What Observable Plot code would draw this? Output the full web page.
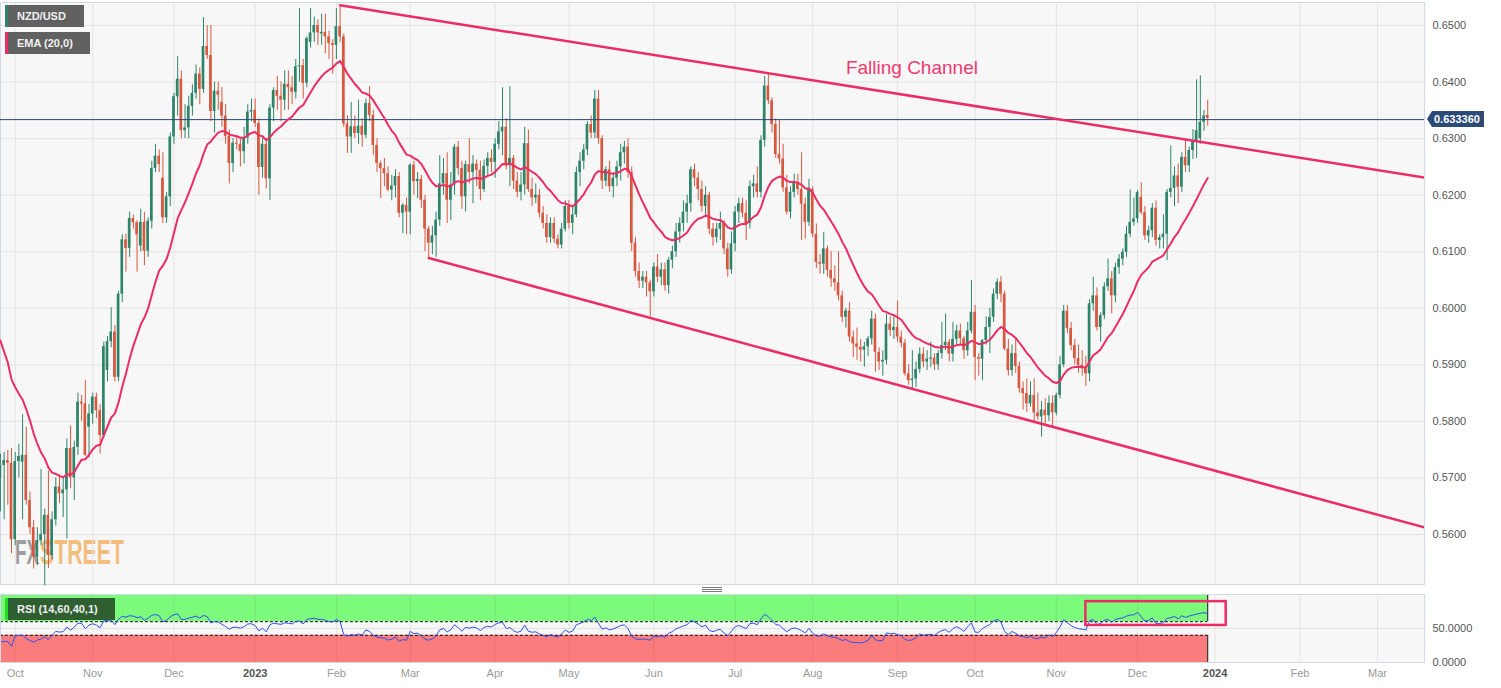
<!DOCTYPE html>
<html><head><meta charset="utf-8">
<script src="https://cdn.jsdelivr.net/npm/d3@7"></script>
<script src="https://cdn.jsdelivr.net/npm/@observablehq/plot@0.6"></script>
<style>
html,body{margin:0;padding:0;background:#fff;}
#wrap{position:relative;width:1501px;height:688px;overflow:hidden;font-family:"Liberation Sans",Arial,sans-serif;}
#main,#rsi{position:absolute;left:0;}
#main{top:0;}
#rsi{top:590px;}
.leg{position:absolute;left:5px;height:22px;line-height:22px;color:#f0f0f0;font-size:11px;font-weight:bold;padding-left:12px;box-sizing:border-box;white-space:nowrap;}
.leg i{position:absolute;left:0;top:0;width:2.5px;height:100%;}
#tag{position:absolute;left:1432px;height:16px;line-height:16px;background:#2b4a78;color:#fff;font-size:11px;font-weight:bold;padding:0 4px 0 2px;white-space:nowrap;}
#tag:before{content:"";position:absolute;left:-5px;top:0;border-top:8px solid transparent;border-bottom:8px solid transparent;border-right:5px solid #2b4a78;}
.hd{position:absolute;left:702px;width:20px;height:1px;background:#7a7a7a;}
</style></head>
<body><div id="wrap"></div>
<script>
// ---------------- DATA ----------------
// daily candles [open, high, low, close], one row per weekday
const sep22 = [
[.5700,.5742,.5640,.5722],[.5722,.5745,.5626,.5731],[.5731,.5749,.5652,.5726],[.5726,.5752,.5566,.5591]];
const oct22 = [
[.5591,.5745,.5580,.5729],[.5729,.5760,.5700,.5738],[.5728,.5812,.5626,.5740],[.5740,.5790,.5652,.5660],
[.5660,.5675,.5600,.5612],[.5612,.5625,.5539,.5560],[.5560,.5612,.5545,.5589],[.5589,.5715,.5580,.5600],
[.5600,.5645,.5509,.5634],[.5634,.5712,.5540,.5563],[.5563,.5640,.5555,.5626],[.5626,.5700,.5615,.5684],
[.5684,.5705,.5655,.5672],[.5672,.5700,.5630,.5679],[.5679,.5769,.5592,.5752],[.5752,.5792,.5681,.5700],
[.5700,.5765,.5660,.5754],[.5754,.5850,.5740,.5834],[.5834,.5846,.5800,.5831],[.5831,.5872,.5738,.5740],
[.5790,.5830,.5735,.5813]];
const nov22 = [
[.5813,.5850,.5795,.5843],[.5843,.5850,.5805,.5819],[.5819,.5830,.5742,.5775],[.5775,.5940,.5770,.5932],
[.5890,.5950,.5870,.5941],[.5941,.6001,.5930,.5958],[.5958,.5970,.5870,.5878],[.5878,.6030,.5870,.6025],
[.6025,.6130,.6010,.6121],[.6121,.6131,.6064,.6106],[.6106,.6170,.6090,.6159],[.6159,.6165,.6140,.6151],
[.6151,.6155,.6064,.6130],[.6110,.6175,.6100,.6152],[.6152,.6170,.6075,.6101],[.6101,.6160,.6090,.6154],
[.6154,.6260,.6140,.6247],[.6247,.6290,.6240,.6269],[.6269,.6280,.6240,.6254],[.6230,.6275,.6150,.6160],
[.6160,.6205,.6150,.6197],[.6197,.6310,.6180,.6303]];
const dec22 = [
[.6303,.6380,.6290,.6374],[.6374,.6445,.6340,.6405],[.6405,.6420,.6300,.6314],[.6314,.6360,.6300,.6319],
[.6319,.6375,.6300,.6357],[.6357,.6395,.6340,.6380],[.6380,.6430,.6370,.6414],[.6414,.6425,.6360,.6387],
[.6387,.6514,.6380,.6463],[.6463,.6500,.6440,.6447],[.6447,.6500,.6330,.6348],[.6348,.6400,.6310,.6384],
[.6384,.6400,.6350,.6377],[.6364,.6390,.6320,.6340],[.6340,.6360,.6290,.6304],[.6304,.6315,.6220,.6256],
[.6256,.6300,.6240,.6292],[.6292,.6305,.6280,.6290],[.6290,.6300,.6250,.6277],[.6277,.6320,.6255,.6301],
[.6301,.6360,.6290,.6347],[.6347,.6370,.6330,.6350]];
const jan23 = [
[.6350,.6370,.6320,.6327],[.6327,.6335,.6200,.6249],[.6249,.6300,.6230,.6290],[.6290,.6300,.6211,.6229],
[.6229,.6360,.6191,.6354],[.6354,.6390,.6330,.6385],[.6385,.6410,.6350,.6375],[.6375,.6400,.6330,.6368],
[.6368,.6420,.6350,.6396],[.6396,.6420,.6350,.6390],[.6390,.6410,.6360,.6382],[.6382,.6440,.6370,.6427],
[.6427,.6530,.6400,.6429],[.6429,.6440,.6370,.6398],[.6398,.6480,.6390,.6477],[.6470,.6530,.6460,.6487],
[.6487,.6515,.6470,.6500],[.6500,.6510,.6465,.6487],[.6485,.6520,.6465,.6488],[.6488,.6520,.6450,.6480],
[.6480,.6490,.6440,.6468],[.6468,.6475,.6414,.6465]];
const feb23 = [
[.6465,.6530,.6440,.6498],[.6498,.6536,.6470,.6480],[.6480,.6485,.6320,.6326],[.6326,.6340,.6274,.6303],
[.6303,.6364,.6274,.6321],[.6321,.6340,.6300,.6309],[.6309,.6368,.6290,.6322],[.6322,.6335,.6285,.6306],
[.6306,.6370,.6300,.6362],[.6362,.6392,.6330,.6341],[.6341,.6350,.6270,.6288],[.6288,.6300,.6240,.6256],
[.6256,.6260,.6194,.6247],[.6247,.6265,.6215,.6238],[.6238,.6250,.6206,.6209],[.6209,.6235,.6190,.6216],
[.6216,.6245,.6195,.6233],[.6233,.6240,.6160,.6168],[.6168,.6185,.6132,.6182],[.6182,.6195,.6130,.6170]];
const mar23 = [
[.6170,.6255,.6130,.6253],[.6253,.6260,.6200,.6224],[.6224,.6240,.6194,.6228],[.6228,.6235,.6177,.6191],
[.6191,.6200,.6100,.6140],[.6140,.6145,.6088,.6115],[.6115,.6145,.6095,.6128],[.6128,.6170,.6090,.6156],
[.6156,.6270,.6145,.6220],[.6220,.6265,.6200,.6238],[.6238,.6275,.6150,.6191],[.6191,.6240,.6155,.6218],
[.6218,.6290,.6200,.6285],[.6285,.6295,.6235,.6247],[.6247,.6260,.6175,.6197],[.6197,.6260,.6170,.6254],
[.6254,.6300,.6220,.6240],[.6240,.6270,.6185,.6255],[.6255,.6262,.6215,.6244],[.6244,.6260,.6190,.6210],
[.6210,.6262,.6205,.6251],[.6251,.6275,.6235,.6265],[.6265,.6280,.6240,.6258]];
const apr23 = [
[.6258,.6300,.6230,.6290],[.6290,.6330,.6280,.6312],[.6312,.6390,.6270,.6320],[.6320,.6335,.6245,.6252],
[.6252,.6392,.6215,.6265],[.6265,.6270,.6210,.6225],[.6225,.6240,.6195,.6205],[.6205,.6240,.6190,.6218],
[.6218,.6320,.6200,.6291],[.6291,.6315,.6205,.6210],[.6210,.6230,.6180,.6195],[.6195,.6220,.6185,.6200],
[.6200,.6210,.6160,.6168],[.6168,.6180,.6140,.6150],[.6150,.6165,.6115,.6125],[.6125,.6160,.6115,.6150],
[.6150,.6160,.6115,.6122],[.6122,.6130,.6105,.6112],[.6112,.6150,.6105,.6140],[.6140,.6190,.6135,.6180]];
const may23 = [
[.6180,.6190,.6140,.6150],[.6150,.6180,.6130,.6165],[.6165,.6250,.6160,.6240],[.6240,.6275,.6215,.6260],
[.6260,.6290,.6245,.6280],[.6280,.6330,.6270,.6325],[.6325,.6340,.6300,.6310],[.6310,.6385,.6300,.6370],
[.6370,.6385,.6290,.6300],[.6300,.6305,.6210,.6225],[.6225,.6250,.6215,.6245],[.6245,.6260,.6205,.6215],
[.6215,.6240,.6195,.6230],[.6230,.6260,.6215,.6250],[.6250,.6290,.6225,.6275],[.6275,.6295,.6255,.6285],
[.6285,.6300,.6230,.6240],[.6240,.6250,.6100,.6115],[.6115,.6125,.6055,.6065],[.6065,.6080,.6035,.6048],
[.6048,.6065,.6035,.6055],[.6055,.6065,.6020,.6045],[.6045,.6050,.5985,.6029]];
const jun23 = [
[.6029,.6080,.6020,.6073],[.6073,.6095,.6045,.6055],[.6055,.6080,.6040,.6068],[.6068,.6080,.6030,.6040],
[.6040,.6090,.6025,.6085],[.6085,.6110,.6070,.6100],[.6100,.6150,.6090,.6135],[.6135,.6160,.6115,.6150],
[.6150,.6190,.6135,.6170],[.6170,.6200,.6150,.6185],[.6185,.6250,.6170,.6245],[.6245,.6255,.6215,.6230],
[.6230,.6240,.6190,.6210],[.6210,.6225,.6170,.6180],[.6180,.6215,.6160,.6200],[.6200,.6205,.6130,.6140],
[.6140,.6150,.6110,.6125],[.6125,.6150,.6115,.6140],[.6140,.6170,.6120,.6150],[.6150,.6155,.6095,.6105],
[.6105,.6115,.6055,.6068],[.6068,.6135,.6060,.6114]];
const jul23 = [
[.6114,.6180,.6100,.6170],[.6170,.6195,.6150,.6185],[.6185,.6195,.6160,.6168],[.6168,.6190,.6120,.6150],
[.6150,.6225,.6140,.6215],[.6215,.6235,.6195,.6220],[.6220,.6250,.6195,.6205],[.6205,.6305,.6195,.6297],
[.6297,.6410,.6285,.6393],[.6393,.6414,.6360,.6367],[.6367,.6372,.6310,.6325],[.6325,.6335,.6265,.6272],
[.6272,.6334,.6255,.6264],[.6264,.6290,.6205,.6213],[.6213,.6235,.6165,.6170],[.6170,.6215,.6158,.6205],
[.6205,.6237,.6195,.6222],[.6222,.6237,.6200,.6210],[.6210,.6275,.6120,.6184],[.6184,.6195,.6122,.6152],
[.6152,.6228,.6145,.6210]];
const aug23 = [
[.6210,.6215,.6125,.6131],[.6131,.6149,.6070,.6081],[.6081,.6095,.6060,.6078],[.6078,.6134,.6060,.6105],
[.6105,.6110,.6055,.6067],[.6067,.6100,.6037,.6052],[.6052,.6075,.6030,.6045],[.6045,.6100,.6013,.6022],
[.6022,.6030,.5975,.5984],[.5984,.6000,.5965,.5995],[.5995,.6010,.5940,.5949],[.5949,.5960,.5913,.5937],
[.5937,.5965,.5908,.5931],[.5931,.5945,.5905,.5926],[.5926,.5940,.5896,.5932],[.5932,.5950,.5915,.5946],
[.5946,.5995,.5935,.5981],[.5981,.5990,.5887,.5922],[.5922,.5930,.5890,.5905],[.5905,.5925,.5880,.5908],
[.5908,.5990,.5900,.5972],[.5972,.5985,.5950,.5961],[.5961,.5985,.5945,.5966]];
const sep23 = [
[.5966,.6013,.5940,.5949],[.5949,.5960,.5930,.5938],[.5938,.5945,.5880,.5884],[.5884,.5900,.5864,.5872],
[.5872,.5925,.5858,.5875],[.5875,.5905,.5860,.5892],[.5892,.5930,.5885,.5919],[.5919,.5930,.5895,.5905],
[.5905,.5925,.5890,.5910],[.5910,.5940,.5895,.5912],[.5912,.5920,.5890,.5900],[.5900,.5925,.5890,.5920],
[.5920,.5975,.5910,.5934],[.5934,.5990,.5925,.5940],[.5940,.5945,.5905,.5919],[.5919,.5975,.5905,.5945],
[.5945,.5970,.5935,.5960],[.5960,.5972,.5935,.5946],[.5946,.5950,.5910,.5925],[.5925,.5975,.5915,.5960],
[.5960,.6049,.5955,.5993]];
const oct23 = [
[.5993,.6005,.5872,.5913],[.5913,.5920,.5880,.5910],[.5910,.5945,.5872,.5943],[.5943,.5985,.5935,.5966],
[.5966,.6000,.5920,.5984],[.5984,.6034,.5975,.6025],[.6025,.6052,.6015,.6046],[.6046,.6056,.6010,.6025],
[.6025,.6030,.5925,.5928],[.5928,.5945,.5880,.5890],[.5890,.5935,.5880,.5920],[.5920,.5945,.5885,.5897],
[.5897,.5905,.5850,.5858],[.5858,.5870,.5820,.5849],[.5849,.5875,.5816,.5831],[.5831,.5870,.5825,.5846],
[.5846,.5875,.5800,.5815],[.5815,.5850,.5802,.5808],[.5808,.5835,.5772,.5820],[.5820,.5840,.5795,.5810],
[.5810,.5845,.5800,.5832],[.5832,.5845,.5790,.5815]];
const nov23 = [
[.5815,.5850,.5810,.5846],[.5846,.5915,.5840,.5900],[.5900,.6005,.5895,.5995],[.5995,.6005,.5955,.5964],
[.5964,.5975,.5925,.5934],[.5934,.5945,.5900,.5911],[.5911,.5935,.5885,.5899],[.5899,.5925,.5880,.5893],
[.5893,.5915,.5862,.5884],[.5884,.6015,.5870,.6008],[.6008,.6055,.5995,.6022],[.6022,.6036,.5960,.5966],
[.5966,.5992,.5940,.5987],[.5987,.6045,.5980,.6038],[.6038,.6087,.6030,.6052],[.6052,.6065,.5990,.6022],
[.6022,.6080,.6010,.6072],[.6072,.6095,.6060,.6087],[.6087,.6105,.6075,.6099],[.6099,.6145,.6090,.6131],
[.6131,.6209,.6125,.6152],[.6152,.6195,.6145,.6158]];
const dec23 = [
[.6158,.6208,.6150,.6205],[.6196,.6222,.6165,.6169],[.6169,.6180,.6120,.6128],[.6128,.6145,.6115,.6137],
[.6137,.6185,.6125,.6177],[.6177,.6190,.6110,.6120],[.6120,.6130,.6105,.6125],[.6125,.6165,.6105,.6131],
[.6131,.6210,.6084,.6205],[.6205,.6287,.6195,.6212],[.6212,.6250,.6180,.6234],[.6234,.6255,.6185,.6214],
[.6214,.6275,.6205,.6267],[.6267,.6300,.6240,.6252],[.6252,.6285,.6240,.6279],[.6279,.6316,.6263,.6296],
[.6296,.6404,.6265,.6314],[.6300,.6411,.6290,.6329],[.6329,.6350,.6313,.6340],[.6341,.6368,.6322,.6336]];

const firstDay = "2022-09-27";
const lastPrice = 0.63336;
const priceTicks = [0.56,0.57,0.58,0.59,0.60,0.61,0.62,0.63,0.64,0.65];
const monthStarts = ["2022-10-01","2022-11-01","2022-12-01","2023-01-01","2023-02-01","2023-03-01","2023-04-01","2023-05-01","2023-06-01","2023-07-01","2023-08-01","2023-09-01","2023-10-01","2023-11-01","2023-12-01","2024-01-01","2024-02-01","2024-03-01"];
const monthLabels = ["Oct","Nov","Dec","2023","Feb","Mar","Apr","May","Jun","Jul","Aug","Sep","Oct","Nov","Dec","2024","Feb","Mar"];
const channelUpper = [["2023-02-02",0.6536],["2024-03-20",0.6231]];
const channelLower = [["2023-03-08",0.6089],["2024-03-20",0.5612]];
const channelLabel = [["2023-08-14",0.6425,"Falling Channel"]];
const emaSeed = 0.5943;          // EMA(20) value at first visible candle
const rsiSeed = [0.0012,0.0028]; // Wilder avg gain / avg loss before first candle
const rsiBand = [60,40];
const rsiBox = [["2023-11-13","2024-01-04",54.5,89.5]];

// ---------------- BUILD ----------------
const rows = [sep22,oct22,nov22,dec22,jan23,feb23,mar23,apr23,may23,jun23,jul23,aug23,sep23,oct23,nov23,dec23].flat();
const cal = [];
{
  const [y,m,d] = firstDay.split("-").map(Number);
  for (let t = Date.UTC(y,m-1,d); t <= Date.UTC(2024,3,30); t += 86400000) {
    const w = new Date(t).getUTCDay(); if (w !== 0 && w !== 6) cal.push(t);
  }
}
const idxOf = s => { const t = Date.parse(s + "T00:00:00Z"); return cal.findIndex(v => v >= t); };
const candles = rows.map((r,k) => ({k, o:r[0], h:r[1], l:r[2], c:r[3]}));
const ups = candles.filter(d => d.c >= d.o), downs = candles.filter(d => d.c < d.o);
const bodyLo = d => Math.min(d.o,d.c) - Math.max(0, 0.00018 - Math.abs(d.c-d.o))/2;
const bodyHi = d => Math.max(d.o,d.c) + Math.max(0, 0.00018 - Math.abs(d.c-d.o))/2;

// EMA(20)
const ema = []; { let e = emaSeed; const a = 2/21;
  candles.forEach((d,k) => { if (k>0) e = e + a*(d.c - e); ema.push({k, v:e}); }); }
// RSI(14) Wilder
const rsi = []; { let [g,l] = rsiSeed;
  candles.forEach((d,k) => { if (k>0) { const ch = d.c - candles[k-1].c; g = (g*13 + Math.max(ch,0))/14; l = (l*13 + Math.max(-ch,0))/14; }
    rsi.push({k, v: 100 - 100/(1 + g/l)}); }); }

const monthIdx = monthStarts.map(idxOf);
const labelOf = new Map(monthIdx.map((v,i) => [v, monthLabels[i]]));
const k0 = idxOf("2022-10-03");
const PX = 3.692, X0 = 14.7, PLOT_R = 1424;
const xDomain = [k0 - X0/PX, k0 + (PLOT_R - X0)/PX];
const kLast = candles.length - 1;

const GREEN = "#2e8469", RED = "#d8573f", PINK = "#ec2d65";
const font = "'Liberation Sans', Arial, sans-serif";
const line2 = arr => arr.map(([d,p]) => ({k: idxOf(d), p}));

const main = Plot.plot({
  width: 1501, height: 590,
  marginLeft: 0, marginRight: 1501 - PLOT_R, marginTop: 2, marginBottom: 6,
  style: {fontFamily: font, fontSize: "11px", color: "#555", background: "transparent", overflow: "visible"},
  x: {domain: xDomain, axis: null},
  y: {domain: [0.55116, 0.65407], axis: "right", ticks: priceTicks, tickFormat: d => d.toFixed(4), tickSize: 0, tickPadding: 8, label: null},
  marks: [
    Plot.frame({fill: "#f7f7f7"}),
    Plot.ruleY(priceTicks, {stroke: "#e4e4e4", strokeWidth: 1}),
    Plot.ruleX(monthIdx, {stroke: "#e4e4e4", strokeWidth: 1}),
    Plot.frame({stroke: "#d2d8e6"}),
    Plot.ruleX(ups, {x: "k", y1: "l", y2: "h", stroke: GREEN, strokeWidth: 1}),
    Plot.ruleX(downs, {x: "k", y1: "l", y2: "h", stroke: RED, strokeWidth: 1}),
    Plot.rect(ups, {x1: d => d.k - 0.36, x2: d => d.k + 0.36, y1: bodyLo, y2: bodyHi, fill: GREEN}),
    Plot.rect(downs, {x1: d => d.k - 0.36, x2: d => d.k + 0.36, y1: bodyLo, y2: bodyHi, fill: RED}),
    Plot.ruleY([lastPrice], {stroke: "#2a4775", strokeWidth: 1}),
    Plot.line(line2(channelUpper), {x: "k", y: "p", stroke: PINK, strokeWidth: 2.5, clip: true}),
    Plot.line(line2(channelLower), {x: "k", y: "p", stroke: PINK, strokeWidth: 2.5, clip: true}),
    Plot.line(ema, {x: "k", y: "v", stroke: PINK, strokeWidth: 2}),
    Plot.text(channelLabel, {x: d => idxOf(d[0]), y: d => d[1], text: d => d[2], textAnchor: "start", fill: "#ee3a70", fontSize: 19})
  ]
});

const rsiPlot = Plot.plot({
  width: 1501, height: 98,
  marginLeft: 0, marginRight: 1501 - PLOT_R, marginTop: 4, marginBottom: 26,
  style: {fontFamily: font, fontSize: "11px", color: "#555", background: "transparent", overflow: "visible"},
  x: {domain: xDomain, axis: "bottom", ticks: monthIdx, tickFormat: d => labelOf.get(d), tickSize: 0, tickPadding: 7, label: null},
  y: {domain: [0, 100], axis: "right", ticks: [0, 50], tickFormat: d => d.toFixed(4), tickSize: 0, tickPadding: 8, label: null},
  marks: [
    Plot.frame({fill: "#f7f7f7"}),
    Plot.ruleY([50], {stroke: "#e2e2e2"}),
    Plot.rect([[rsiBand[0],100],[0,rsiBand[1]]], {x1: 0, x2: kLast, y1: d => d[0], y2: d => d[1], fill: (d,i) => i ? "#fb7c7c" : "#7cfa7c"}),
    Plot.ruleX(monthIdx, {stroke: "#000", strokeOpacity: 0.07}),
    Plot.ruleY(rsiBand, {x1: 0, x2: kLast, stroke: "#111", strokeDasharray: "3,2", strokeWidth: 1}),
    Plot.ruleX([0, kLast], {y1: rsiBand[0], y2: 100, stroke: "#111"}),
    Plot.ruleX([0, kLast], {y1: 0, y2: rsiBand[1], stroke: "#111"}),
    Plot.line(rsi, {x: "k", y: "v", stroke: "#2d4ff0", strokeWidth: 1}),
    Plot.rect(rsiBox, {x1: d => idxOf(d[0]), x2: d => idxOf(d[1]), y1: d => d[2], y2: d => d[3], fill: "none", stroke: PINK, strokeWidth: 2.5}),
    Plot.frame({stroke: "#d2d8e6"})
  ]
});

main.id = "main"; rsiPlot.id = "rsi";
const wrap = document.getElementById("wrap");
wrap.appendChild(main); wrap.appendChild(rsiPlot);

// watermark behind candles (scaled horizontally so the boxes stay apart)
{
  const frame = main.querySelector("[aria-label='frame']");
  const NS = "http://www.w3.org/2000/svg";
  const g = document.createElementNS(NS, "g");
  frame.after(g);
  const G = d3.select(g).attr("font-family", font).attr("font-weight", "bold").attr("font-size", 35)
    .attr("text-anchor", "start").attr("opacity", 0.85);
  const fx = G.append("text").attr("fill", "#8e8e92").text("FX");
  const st = G.append("text").attr("fill", "#f2b468").text("STREET");
  const wFx = fx.node().getComputedTextLength(), wSt = st.node().getComputedTextLength();
  fx.attr("transform", `translate(15,564) scale(${24 / wFx},1)`);
  st.attr("transform", `translate(40,564) scale(${84 / wSt},1)`);
}
// axis label styling
d3.select(rsiPlot).selectAll("text").each(function() {
  const s = this.textContent;
  if (/^\d{4}$/.test(s)) d3.select(this).attr("fill", "#555").attr("font-weight", "bold");
  else if (/^[A-Z][a-z]{2}$/.test(s)) d3.select(this).attr("fill", "#9a9a9a");
});

// legends / tag / handle (HTML)
const yTag = main.scale("y").apply(lastPrice);
wrap.insertAdjacentHTML("beforeend",
  `<div class="leg" style="top:5px;width:79px;background:#616161"><i style="background:${GREEN}"></i>NZD/USD</div>
   <div class="leg" style="top:32px;width:85px;background:#616161"><i style="background:${PINK}"></i>EMA (20,0)</div>
   <div class="leg" style="top:598px;width:110px;background:#2f5f30"><i style="background:#1fe01f"></i>RSI (14,60,40,1)</div>
   <div id="tag" style="top:${yTag - 8}px">${lastPrice.toFixed(6)}</div>
   <div class="hd" style="top:587px"></div><div class="hd" style="top:589px"></div><div class="hd" style="top:591px"></div>`);
</script>
</body></html>
